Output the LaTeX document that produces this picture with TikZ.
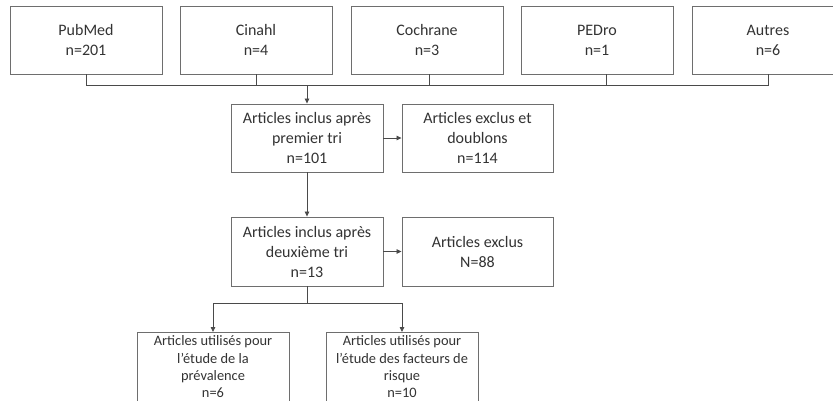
\documentclass[tikz,border=0pt]{standalone}
\usepackage{fontspec}
\setmainfont{Carlito}
\usetikzlibrary{arrows.meta}
\definecolor{boxc}{HTML}{6E6E6E}
\definecolor{linec}{HTML}{4A4A4A}
\definecolor{txtc}{HTML}{333333}
\begin{document}
\begin{tikzpicture}[x=1pt,y=-1pt,
  box/.style={draw=boxc, line width=0.9pt, minimum width=152pt, align=center, inner sep=0pt, text=txtc,
    font=\fontsize{16}{20}\selectfont},
  smallbox/.style={draw=boxc, line width=0.9pt, minimum width=152pt, align=center, inner xsep=0pt, inner ysep=3.5pt, text=txtc,
    font=\fontsize{14.4}{17.3}\selectfont, anchor=north, text depth=80pt},
  conn/.style={draw=linec, line width=0.8pt},
  arr/.style={conn, -{Triangle[length=5pt,width=4.5pt]}}]
\useasboundingbox (0,0) rectangle (833,400);
\fill[white] (0,0) rectangle (833,400);
% top sources
\node[box, minimum height=68pt] (pub) at (86,40) {PubMed\\n=201};
\node[box, minimum height=68pt] (cin) at (256,40) {Cinahl\\n=4};
\node[box, minimum height=68pt] (coc) at (427,40) {Cochrane\\n=3};
\node[box, minimum height=68pt] (ped) at (597,40) {PEDro\\n=1};
\node[box, minimum height=68pt] (aut) at (768,40) {Autres\\n=6};
% middle
\node[box, minimum height=68pt] (inc1) at (307,138) {Articles inclus après\\premier tri\\n=101};
\node[box, minimum height=68pt, minimum width=151pt] (exc1) at (477.5,138) {Articles exclus et\\doublons\\n=114};
\node[box, minimum height=69pt] (inc2) at (307,251.5) {Articles inclus après\\deuxième tri\\n=13};
\node[box, minimum height=69pt, minimum width=151pt] (exc2) at (477.5,251.5) {Articles exclus\\N=88};
% bottom
\node[smallbox] (prev) at (213,332) {Articles utilisés pour\\l’étude de la\\prévalence\\n=6};
\node[smallbox] (risk) at (402,332) {Articles utilisés pour\\l’étude des facteurs de\\risque\\n=10};
% connectors top
\coordinate (j1) at (86,85);
\coordinate (j2) at (256,85);
\coordinate (j3) at (429,85);
\coordinate (j4) at (606,85);
\coordinate (j5) at (768,85);
\coordinate (jm) at (307,85);
\draw[conn] (pub.south) -- (j1) -- (j5) -- (aut.south);
\draw[conn] (cin.south) -- (j2);
\draw[conn] (coc.south -| j3) -- (j3);
\draw[conn] (ped.south -| j4) -- (j4);
\draw[arr] (jm) -- (inc1.north);
\draw[arr] (inc1.east) -- (exc1.west);
\draw[arr] (inc1.south) -- (inc2.north);
\draw[arr] (inc2.east) -- (exc2.west);
% bottom split
\coordinate (b0) at (307,303);
\draw[conn] (inc2.south) -- (b0);
\draw[arr] (b0) -| (prev.north);
\draw[arr] (b0) -| (risk.north);
\end{tikzpicture}
\end{document}
